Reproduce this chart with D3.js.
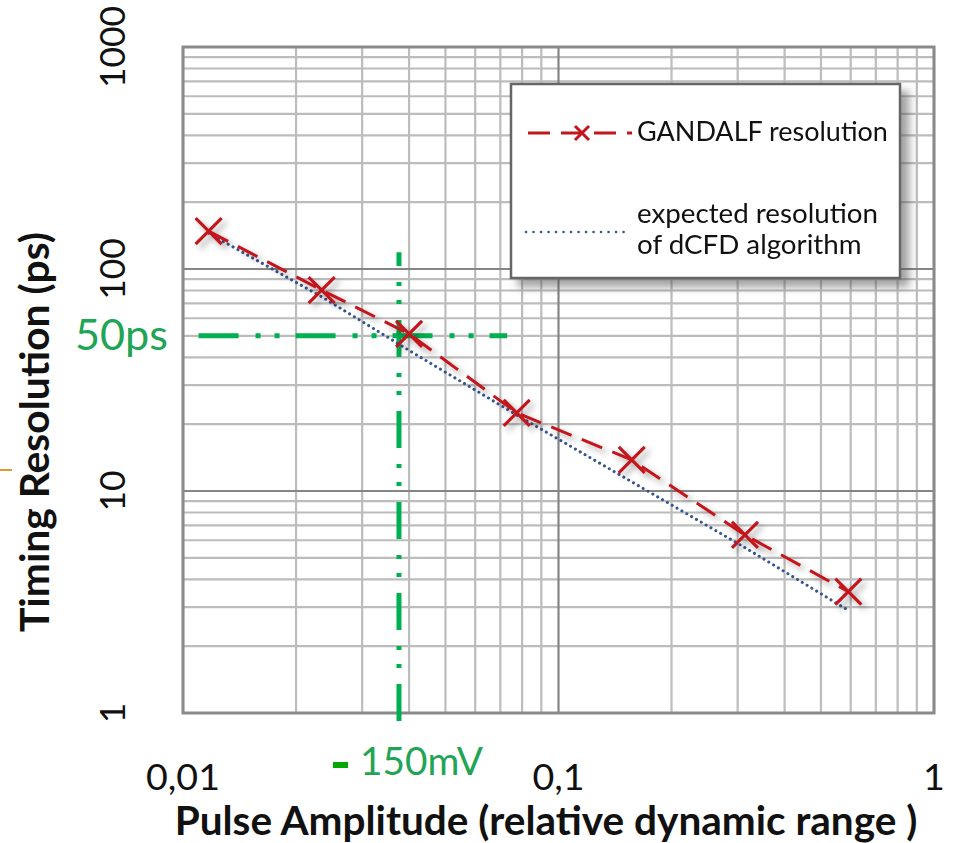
<!DOCTYPE html>
<html>
<head>
<meta charset="utf-8">
<script src="https://cdn.jsdelivr.net/npm/d3@7/dist/d3.min.js"></script>
<style>
  html, body { margin: 0; padding: 0; background: #fff; }
  svg { display: block; }
  text { font-family: Lato, "Open Sans", sans-serif; }
</style>
</head>
<body>
<svg id="chart" width="959" height="843"></svg>
<script>
// Pulse amplitude (fraction of dynamic range) of each measured point
const amplitude = [0.0117, 0.0234, 0.040, 0.0774, 0.1567, 0.3137, 0.5914];
// Measured GANDALF timing resolution (ps)
const gandalfRes = [148, 80.4, 51, 22.5, 13.8, 6.34, 3.52];
// Expected resolution of the dCFD algorithm (ps)
const dcfdRes = [145, 75, 43, 22.0, 11.0, 5.56, 2.9];

const xTickValues = [0.01, 0.1, 1];
const xTickLabels = ["0,01", "0,1", "1"];
const yTickValues = [1, 10, 100, 1000];
const yTickLabels = ["1", "10", "100", "1000"];

// 150 mV / 50 ps reference guide
const guideAmplitude = 0.0376;
const guideResolution = 50;
const guideXSpan = [0.011, 0.073];   // horizontal guide extent (amplitude)
const guideYTop = 119;               // vertical guide upper end (ps)

const legendLabels = ["GANDALF resolution", ["expected resolution", "of dCFD algorithm"]];

const RED = "#c3161c";
const BLUE = "#36568f";
const GREEN = "#00b050";
const GREEN_TEXT = "#22a455";

const svg = d3.select("#chart");
const W = 959, H = 843;
const plot = { left: 183, top: 47, right: 934, bottom: 713 };

const x = d3.scaleLog().domain([0.01, 1]).range([plot.left, plot.right]);
const y = d3.scaleLog().domain([1, 1000]).range([plot.bottom, plot.top]);

const defs = svg.append("defs");
const shLegend = defs.append("filter").attr("id", "legendShadow")
  .attr("x", "-10%").attr("y", "-10%").attr("width", "130%").attr("height", "130%");
shLegend.append("feDropShadow").attr("dx", 8).attr("dy", 8).attr("stdDeviation", 4)
  .attr("flood-color", "#555").attr("flood-opacity", 0.55);
const shMark = defs.append("filter").attr("id", "markShadow")
  .attr("x", "-50%").attr("y", "-50%").attr("width", "200%").attr("height", "200%");
shMark.append("feDropShadow").attr("dx", 4).attr("dy", 4).attr("stdDeviation", 3)
  .attr("flood-color", "#000").attr("flood-opacity", 0.35);

svg.append("rect").attr("width", W).attr("height", H).attr("fill", "#fff");

// small stray tick at left edge
svg.append("line").attr("x1", 0).attr("x2", 12).attr("y1", 470).attr("y2", 470)
  .attr("stroke", "#e39a2d").attr("stroke-width", 2);

const isDecade = v => Math.abs(Math.log10(v) - Math.round(Math.log10(v))) < 1e-6;

// grid
const grid = svg.append("g");
const xg = x.ticks();
const yg = y.ticks();
grid.selectAll("line.vx").data(xg.filter(v => !isDecade(v))).join("line")
  .attr("x1", d => x(d)).attr("x2", d => x(d))
  .attr("y1", plot.top).attr("y2", plot.bottom)
  .attr("stroke", "#bcbcbc").attr("stroke-width", 2.2);
grid.selectAll("line.hy").data(yg.filter(v => !isDecade(v))).join("line")
  .attr("x1", plot.left).attr("x2", plot.right)
  .attr("y1", d => y(d)).attr("y2", d => y(d))
  .attr("stroke", "#bcbcbc").attr("stroke-width", 2.2);
grid.selectAll("line.mx").data(xg.filter(isDecade)).join("line")
  .attr("x1", d => x(d)).attr("x2", d => x(d))
  .attr("y1", plot.top).attr("y2", plot.bottom)
  .attr("stroke", "#858585").attr("stroke-width", 2.2);
grid.selectAll("line.my").data(yg.filter(isDecade)).join("line")
  .attr("x1", plot.left).attr("x2", plot.right)
  .attr("y1", d => y(d)).attr("y2", d => y(d))
  .attr("stroke", "#858585").attr("stroke-width", 2.2);

// frame
svg.append("rect")
  .attr("x", plot.left).attr("y", plot.top)
  .attr("width", plot.right - plot.left).attr("height", plot.bottom - plot.top)
  .attr("fill", "none").attr("stroke", "#8a8a8a").attr("stroke-width", 3);

function fitWidth(sel, w) {
  const len = sel.node().getComputedTextLength();
  const fs = parseFloat(sel.attr("font-size"));
  sel.attr("font-size", fs * w / len);
  return fs * w / len;
}

// tick labels
const xLab = svg.append("g").selectAll("text").data(xTickValues).join("text")
  .attr("x", d => x(d)).attr("y", 790)
  .attr("text-anchor", "middle")
  .attr("font-size", 36).attr("fill", "#111")
  .text((d, i) => xTickLabels[i]);
const xFs = fitWidth(d3.select(xLab.nodes()[0]), 74);
xLab.attr("font-size", xFs);

const yLab = svg.append("g").selectAll("text").data(yTickValues).join("text")
  .attr("transform", d => `translate(125,${y(d)}) rotate(-90)`)
  .attr("text-anchor", "middle")
  .attr("font-size", 36).attr("fill", "#111")
  .text((d, i) => yTickLabels[i]);
const yFs = fitWidth(d3.select(yLab.nodes()[3]), 82);
yLab.attr("font-size", yFs);

// axis titles
const xTitle = svg.append("text")
  .attr("x", 546).attr("y", 835).attr("text-anchor", "middle")
  .attr("font-weight", 700).attr("font-size", 30).attr("fill", "#111")
  .text("Pulse Amplitude (relative dynamic range )");
fitWidth(xTitle, 743);

const yTitle = svg.append("text")
  .attr("transform", "translate(49,432) rotate(-90)")
  .attr("text-anchor", "middle")
  .attr("font-weight", 700).attr("font-size", 30).attr("fill", "#111")
  .text("Timing Resolution (ps)");
fitWidth(yTitle, 400);

// 150 mV / 50 ps guides
const gx = x(guideAmplitude), gy = y(guideResolution);
svg.append("line")
  .attr("x1", x(guideXSpan[0])).attr("x2", x(guideXSpan[1]))
  .attr("y1", gy).attr("y2", gy)
  .attr("stroke", GREEN).attr("stroke-width", 5)
  .attr("stroke-dasharray", "40,17,5,14,5,16");
svg.append("line")
  .attr("x1", gx).attr("x2", gx)
  .attr("y1", plot.bottom + 8).attr("y2", y(guideYTop))
  .attr("stroke", GREEN).attr("stroke-width", 5)
  .attr("stroke-dasharray", "37,16,4,14,4,16");

const t50 = svg.append("text")
  .attr("x", 168).attr("y", gy + 14).attr("text-anchor", "end")
  .attr("font-size", 38).attr("fill", GREEN_TEXT)
  .text(guideResolution + "ps");
fitWidth(t50, 93);
svg.append("rect")
  .attr("x", 333).attr("y", 762).attr("width", 15).attr("height", 6)
  .attr("fill", "#00a800");
const t150 = svg.append("text")
  .attr("x", 360).attr("y", 775)
  .attr("font-size", 36).attr("fill", GREEN_TEXT)
  .text("150mV");
fitWidth(t150, 123);

// series
const pts = amplitude.map((a, i) => ({ a, g: gandalfRes[i], d: dcfdRes[i] }));

svg.append("path").datum(pts)
  .attr("fill", "none").attr("stroke", BLUE).attr("stroke-width", 3)
  .attr("stroke-linecap", "round").attr("stroke-dasharray", "0.1,5.5")
  .attr("d", d3.line().x(p => x(p.a)).y(p => y(p.d)));

const seriesG = svg.append("g").attr("filter", "url(#markShadow)");
seriesG.append("path").datum(pts)
  .attr("fill", "none").attr("stroke", RED).attr("stroke-width", 3)
  .attr("stroke-dasharray", "22,11")
  .attr("d", d3.line().x(p => x(p.a)).y(p => y(p.g)));

const cross = h => `M${-h},${-h}L${h},${h}M${-h},${h}L${h},${-h}`;
seriesG.selectAll("path.mk").data(pts).join("path")
  .attr("transform", p => `translate(${x(p.a)},${y(p.g)})`)
  .attr("d", cross(13))
  .attr("fill", "none").attr("stroke", RED).attr("stroke-width", 3.2);

// legend
const lg = svg.append("g");
lg.append("rect")
  .attr("x", 511).attr("y", 84).attr("width", 389).attr("height", 194)
  .attr("fill", "#fff").attr("stroke", "#666").attr("stroke-width", 2.5)
  .attr("filter", "url(#legendShadow)");
lg.append("line").attr("x1", 528).attr("x2", 632).attr("y1", 133).attr("y2", 133)
  .attr("stroke", RED).attr("stroke-width", 3).attr("stroke-dasharray", "22,11");
lg.append("path").attr("transform", "translate(582,133)").attr("d", cross(7))
  .attr("fill", "none").attr("stroke", RED).attr("stroke-width", 3);
const t1 = lg.append("text").attr("x", 637).attr("y", 141)
  .attr("font-size", 22).attr("fill", "#111").text(legendLabels[0]);
fitWidth(t1, 251);
lg.append("line").attr("x1", 526).attr("x2", 630).attr("y1", 232).attr("y2", 232)
  .attr("stroke", BLUE).attr("stroke-width", 2.5)
  .attr("stroke-linecap", "round").attr("stroke-dasharray", "0.1,7.4");
const t2 = lg.append("text").attr("x", 637).attr("y", 223)
  .attr("font-size", 22).attr("fill", "#111").text(legendLabels[1][0]);
fitWidth(t2, 241);
lg.append("text").attr("x", 637).attr("y", 254)
  .attr("font-size", t2.attr("font-size")).attr("fill", "#111").text(legendLabels[1][1]);
</script>
</body>
</html>
